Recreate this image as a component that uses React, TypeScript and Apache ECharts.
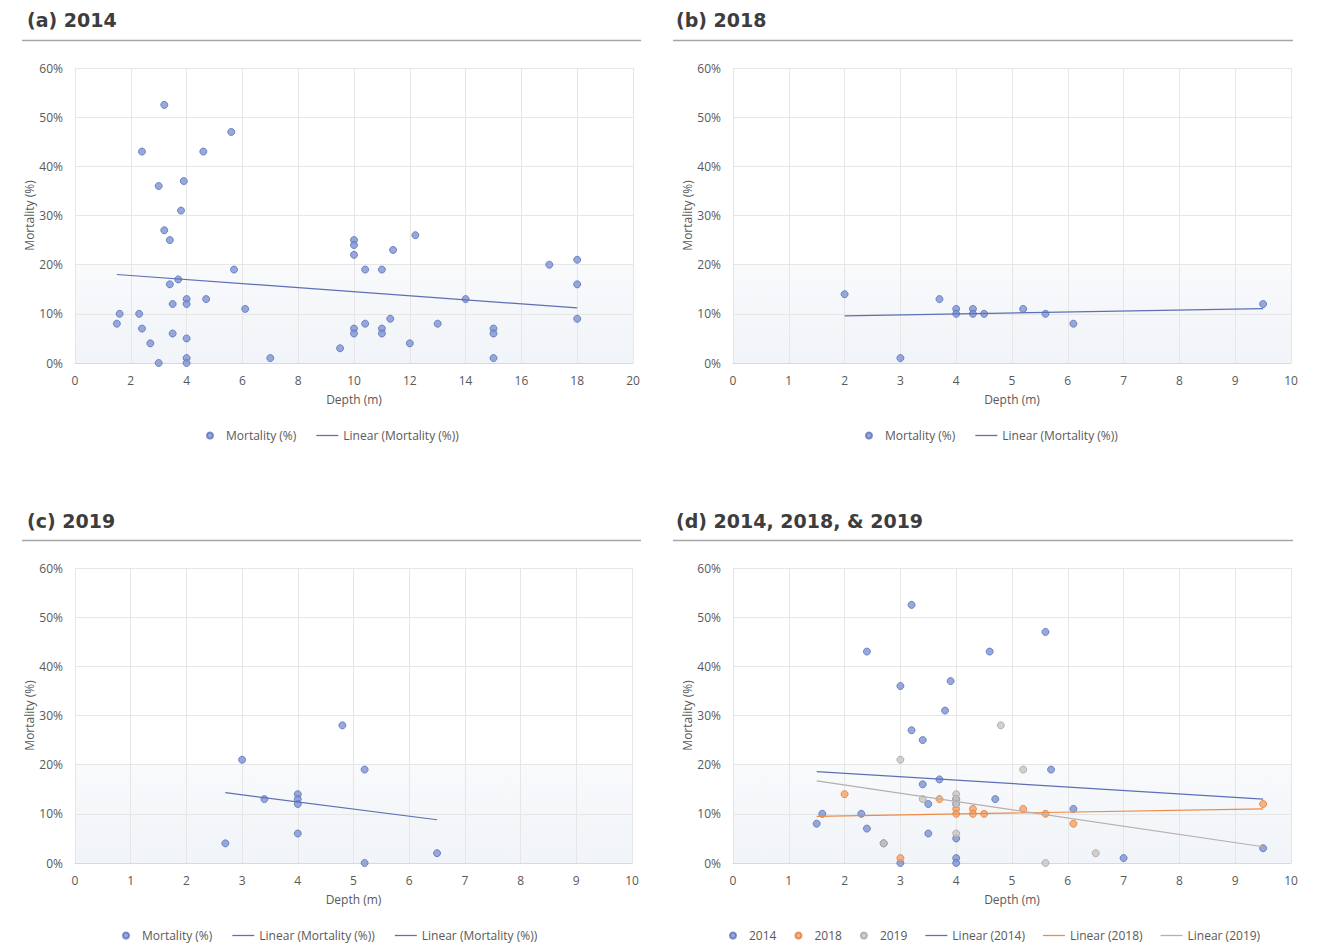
import React, { useEffect, useRef } from "react";
import * as echarts from "echarts";

// ---- Data ----
const depth2014 = [3.2, 2.4, 4.6, 5.6, 3.0, 3.9, 3.8, 3.2, 3.4, 5.7, 3.7, 3.4, 4.0, 4.7, 4.0, 3.5, 6.1, 1.6, 2.3, 1.5, 2.4, 3.5, 4.0, 2.7, 4.0, 7.0, 3.0, 4.0, 9.5, 10, 10, 10, 12.2, 11.4, 10.4, 11, 14, 17, 18, 18, 18, 11.3, 10.4, 13, 10, 10, 11, 11, 15, 15, 12, 15];
const mortality2014 = [52.5, 43, 43, 47, 36, 37, 31, 27, 25, 19, 17, 16, 13, 13, 12, 12, 11, 10, 10, 8, 7, 6, 5, 4, 1, 1, 0, 0, 3, 25, 24, 22, 26, 23, 19, 19, 13, 20, 21, 16, 9, 9, 8, 8, 7, 6, 7, 6, 7, 6, 4, 1];

const depth2018 = [2, 3, 3.7, 4, 4, 4.3, 4.3, 4.5, 5.2, 5.6, 6.1, 9.5];
const mortality2018 = [14, 1, 13, 11, 10, 11, 10, 10, 11, 10, 8, 12];

const depth2019 = [2.7, 3, 3.4, 4, 4, 4, 4, 4.8, 5.2, 5.2, 6.5];
const depth2019Combined = [2.7, 3, 3.4, 4, 4, 4, 4, 4.8, 5.2, 5.6, 6.5];
const mortality2019 = [4, 21, 13, 14, 13, 12, 6, 28, 19, 0, 2];

// Trendline endpoints (depth, mortality %)
const trendA_x = [1.5, 18];
const trendA_y = [18, 11.2];
const trendB_x = [2, 9.5];
const trendB_y = [9.6, 11.05];
const trendC_x = [2.7, 6.5];
const trendC_y = [14.3, 8.8];
const trendD_x = [1.5, 9.5];
const trendD2014_y = [18.6, 13.0];
const trendD2018_y = [9.5, 11.0];
const trendD2019_y = [16.7, 3.3];

// Panel (d) shows only the shallow 2014 sites (depth below 10 m)
const maxDepthCombined = 10;

const panelTitles = ["(a) 2014", "(b) 2018", "(c) 2019", "(d) 2014, 2018, & 2019"];

// ---- Styles ----
const BLUE = "#7d93d3";
const BLUE_B = "#5a71b8";
const BLUE_LINE = "#5d6fb5";
const ORANGE = "#f2a36c";
const ORANGE_B = "#e57b35";
const ORANGE_LINE = "#ee8a45";
const GREY = "#c9c4c0";
const GREY_B = "#a9a39f";
const GREY_LINE = "#b5b0ad";
const FONT = "'Open Sans', sans-serif";
const TXT = "#595959";
const LINE_ICON = "path://M0,0 L22,0 L22,1.3 L0,1.3 Z";

const pairs = (xs: number[], ys: number[]) => xs.map((x, i) => [x, ys[i]]);

const gridBg = new echarts.graphic.LinearGradient(0, 0, 0, 1, [
  { offset: 0, color: "#ffffff" },
  { offset: 0.662, color: "#ffffff" },
  { offset: 0.668, color: "#f8fafc" },
  { offset: 1, color: "#f1f4f8" },
]);

const grids = [
  { left: 75, top: 68, width: 558, height: 295 },
  { left: 733, top: 68, width: 558, height: 295 },
  { left: 75, top: 568, width: 557, height: 295 },
  { left: 733, top: 568, width: 558, height: 295 },
];

const xMax = [20, 10, 10, 10];
const xInt = [2, 1, 1, 1];

function scatter(name: string, gi: number, data: number[][], c: string, b: string) {
  return {
    type: "scatter",
    name,
    xAxisIndex: gi,
    yAxisIndex: gi,
    data,
    symbol: "circle",
    symbolSize: 7,
    itemStyle: { color: c, borderColor: b, borderWidth: 1 },
    z: 3,
  };
}

function trend(name: string, gi: number, xs: number[], ys: number[], c: string) {
  return {
    type: "line",
    name,
    xAxisIndex: gi,
    yAxisIndex: gi,
    data: pairs(xs, ys),
    symbol: "none",
    showSymbol: false,
    lineStyle: { color: c, width: 1.2 },
    itemStyle: { color: c },
    z: 4,
  };
}

const lineItem = (name: string) => ({ name, icon: LINE_ICON });
const dotItem = (name: string) => ({ name, icon: "circle" });

export default function App() {
  const ref = useRef<HTMLDivElement>(null);
  useEffect(() => {
    if (!ref.current) return;
    const chart = echarts.init(ref.current, undefined, { renderer: "svg" });

    const combined2014 = depth2014
      .map((d, i) => [d, mortality2014[i]])
      .filter((p) => p[0] < maxDepthCombined);

    const legendBase = {
      orient: "horizontal",
      itemWidth: 22,
      itemHeight: 6,
      itemGap: 20,
      padding: 0,
      textStyle: { fontFamily: FONT, fontSize: 12, color: TXT, lineHeight: 13 },
      formatter: (n: string) => n.trim(),
    };

    const option: any = {
      animation: false,
      backgroundColor: "#ffffff",
      title: panelTitles.map((t, i) => ({
        text: t,
        left: i % 2 === 0 ? 22 : 671,
        top: i < 2 ? 5 : 506,
        textStyle: { fontFamily: "'DejaVu Sans', sans-serif", fontSize: 19, fontWeight: "bold", color: "#3d3d3d" },
      })),
      graphic: [
        { type: "line", shape: { x1: 22, y1: 40.5, x2: 641, y2: 40.5 }, style: { stroke: "#a6a6a6", lineWidth: 1.3 } },
        { type: "line", shape: { x1: 673, y1: 40.5, x2: 1293, y2: 40.5 }, style: { stroke: "#a6a6a6", lineWidth: 1.3 } },
        { type: "line", shape: { x1: 22, y1: 540.5, x2: 641, y2: 540.5 }, style: { stroke: "#a6a6a6", lineWidth: 1.3 } },
        { type: "line", shape: { x1: 673, y1: 540.5, x2: 1293, y2: 540.5 }, style: { stroke: "#a6a6a6", lineWidth: 1.3 } },
      ],
      grid: grids.map((g) => ({
        ...g,
        show: true,
        backgroundColor: gridBg,
        borderWidth: 0,
        containLabel: false,
      })),
      xAxis: grids.map((_, i) => ({
        type: "value",
        gridIndex: i,
        min: 0,
        max: xMax[i],
        interval: xInt[i],
        name: "Depth (m)",
        nameLocation: "middle",
        nameGap: 30,
        nameTextStyle: { fontFamily: FONT, fontSize: 12, color: TXT },
        axisLine: { show: true, lineStyle: { color: "#d9d9d9" } },
        axisTick: { show: false },
        axisLabel: { fontFamily: FONT, fontSize: 12, color: TXT, margin: 11 },
        splitLine: { show: true, lineStyle: { color: "#e6e6e6" } },
      })),
      yAxis: grids.map((_, i) => ({
        type: "value",
        gridIndex: i,
        min: 0,
        max: 60,
        interval: 10,
        name: "Mortality (%)",
        nameLocation: "middle",
        nameGap: 39,
        nameTextStyle: { fontFamily: FONT, fontSize: 12, color: TXT },
        axisLine: { show: false },
        axisTick: { show: false },
        axisLabel: { fontFamily: FONT, fontSize: 12, color: TXT, margin: 12, formatter: "{value}%" },
        splitLine: { show: true, lineStyle: { color: "#e6e6e6" } },
      })),
      legend: [
        { ...legendBase, left: 206, top: 429, data: [dotItem("Mortality (%)"), lineItem("Linear (Mortality (%))")] },
        { ...legendBase, left: 865, top: 429, data: [dotItem("Mortality (%)"), lineItem("Linear (Mortality (%))")] },
        {
          ...legendBase,
          left: 122,
          top: 929,
          data: [dotItem("Mortality (%)"), lineItem("Linear (Mortality (%))"), lineItem("Linear (Mortality (%)) ")],
        },
        {
          ...legendBase,
          left: 729,
          top: 929,
          itemGap: 18,
          data: [
            dotItem("2014"),
            dotItem("2018"),
            dotItem("2019"),
            lineItem("Linear (2014)"),
            lineItem("Linear (2018)"),
            lineItem("Linear (2019)"),
          ],
        },
      ],
      series: [
        scatter("Mortality (%)", 0, pairs(depth2014, mortality2014), BLUE, BLUE_B),
        trend("Linear (Mortality (%))", 0, trendA_x, trendA_y, BLUE_LINE),
        scatter("Mortality (%)", 1, pairs(depth2018, mortality2018), BLUE, BLUE_B),
        trend("Linear (Mortality (%))", 1, trendB_x, trendB_y, BLUE_LINE),
        scatter("Mortality (%)", 2, pairs(depth2019, mortality2019), BLUE, BLUE_B),
        trend("Linear (Mortality (%))", 2, trendC_x, trendC_y, BLUE_LINE),
        trend("Linear (Mortality (%)) ", 2, [], [], BLUE_LINE),
        scatter("2014", 3, combined2014, BLUE, BLUE_B),
        scatter("2018", 3, pairs(depth2018, mortality2018), ORANGE, ORANGE_B),
        scatter("2019", 3, pairs(depth2019Combined, mortality2019), GREY, GREY_B),
        trend("Linear (2014)", 3, trendD_x, trendD2014_y, BLUE_LINE),
        trend("Linear (2018)", 3, trendD_x, trendD2018_y, ORANGE_LINE),
        trend("Linear (2019)", 3, trendD_x, trendD2019_y, GREY_LINE),
      ],
    };
    chart.setOption(option);
    return () => chart.dispose();
  }, []);

  return (
    <div
      ref={ref}
      style={{ position: "fixed", left: 0, top: 0, width: 1332, height: 944, background: "#fff" }}
    />
  );
}
